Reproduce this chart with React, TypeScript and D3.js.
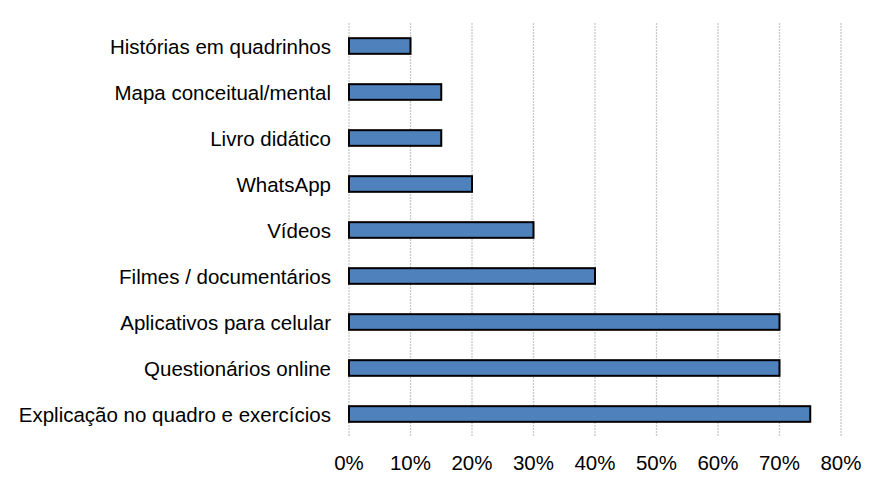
import * as d3 from 'd3'

const categories = [
  'Histórias em quadrinhos',
  'Mapa conceitual/mental',
  'Livro didático',
  'WhatsApp',
  'Vídeos',
  'Filmes / documentários',
  'Aplicativos para celular',
  'Questionários online',
  'Explicação no quadro e exercícios',
]
const values = [10, 15, 15, 20, 30, 40, 70, 70, 75]
const ticks = [0, 10, 20, 30, 40, 50, 60, 70, 80]

const W = 885
const H = 486
const margin = { top: 23, right: 44, bottom: 49, left: 349 }
const font = 'Liberation Sans, Arial, sans-serif'

export default function App() {
  const x = d3.scaleLinear().domain([0, 80]).range([margin.left, W - margin.right])
  const y = d3
    .scaleBand()
    .domain(categories)
    .range([margin.top, H - margin.bottom])
    .paddingInner(0.66)
    .paddingOuter(0.33)

  return (
    <svg width={W} height={H} style={{ position: 'absolute', left: 0, top: 0, background: '#fff' }}>
      {ticks.map((t) => (
        <line
          key={t}
          x1={x(t)}
          x2={x(t)}
          y1={margin.top}
          y2={H - margin.bottom}
          stroke="#c8c8c8"
          strokeWidth={1.3}
          strokeDasharray="2 1"
        />
      ))}
      {categories.map((c, i) => (
        <rect
          key={c}
          x={x(0)}
          y={y(c)}
          width={x(values[i]) - x(0)}
          height={y.bandwidth()}
          fill="#4f81bd"
          stroke="#000"
          strokeWidth={2}
        />
      ))}
      {categories.map((c) => (
        <text
          key={c}
          x={331}
          y={(y(c) ?? 0) + y.bandwidth() / 2}
          textAnchor="end"
          dominantBaseline="central"
          fontFamily={font}
          fontSize={20.5}
          fill="#000"
        >
          {c}
        </text>
      ))}
      {ticks.map((t) => (
        <text
          key={t}
          x={x(t)}
          y={462}
          textAnchor="middle"
          dominantBaseline="central"
          fontFamily={font}
          fontSize={20.5}
          fill="#000"
        >
          {t}%
        </text>
      ))}
    </svg>
  )
}
